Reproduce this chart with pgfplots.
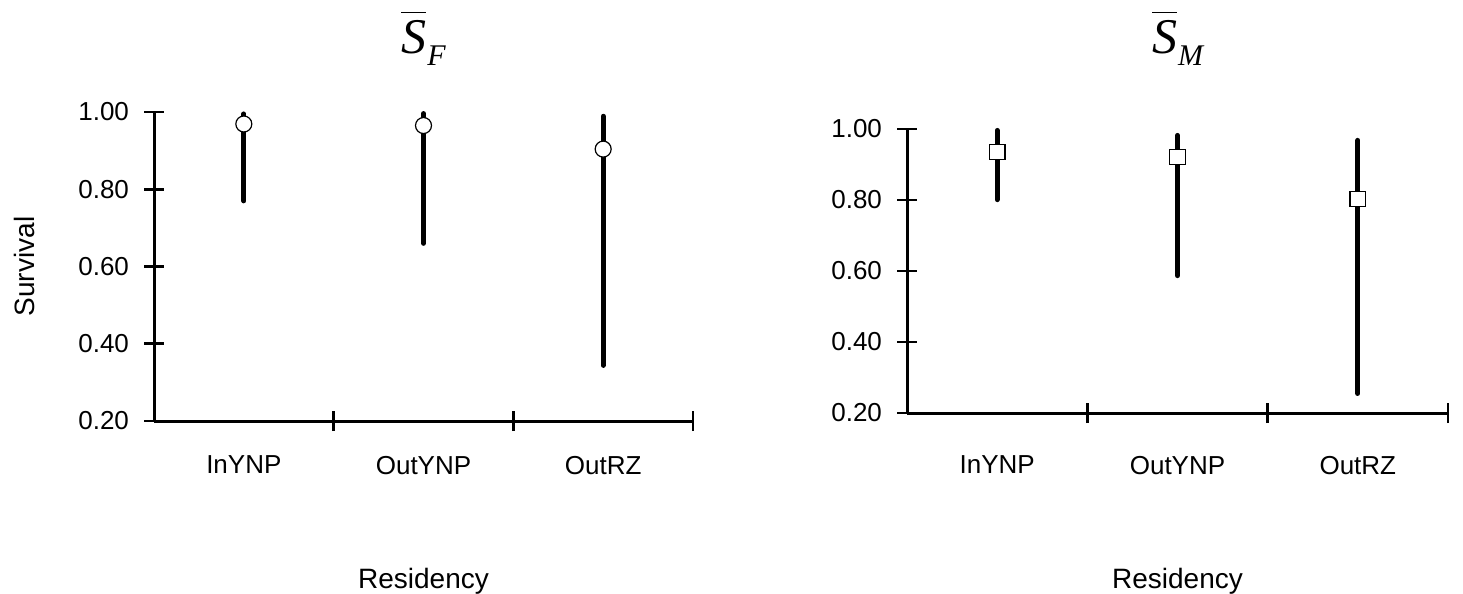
\documentclass[border=0pt]{standalone}
\usepackage{fontspec}
\setmainfont{Liberation Sans}
\newfontfamily\tnr{Liberation Serif}
\usepackage{pgfplots}
\pgfplotsset{compat=1.18}
\newcommand{\sbar}[1]{{\tnr\itshape\fontsize{25}{30}\selectfont\vbox{\hrule height 0.6pt\kern 3.5pt\hbox{S}}\kern0.5pt\raisebox{-6pt}{\fontsize{15}{18}\selectfont #1}}}
\pgfplotsset{
 myaxis/.style={
  scale only axis,
  xmin=0, xmax=3, ymin=0.2, ymax=1.0,
  axis lines=left,
  axis line style={-, line width=1.5pt},
  every tick/.style={black, line width=1.4pt},
  major tick length=10pt,
  tick align=center,
  xtick={1,2,3}, xticklabels={},
  extra x ticks={0.5,1.5,2.5},
  extra x tick labels={InYNP,OutYNP,OutRZ},
  extra x tick style={major tick length=0pt},
  ytick={0.2,0.4,0.6,0.8,1.0},
  yticklabel style={/pgf/number format/fixed, /pgf/number format/fixed zerofill, /pgf/number format/precision=2, xshift=-4pt},
  /pgf/number format/assume math mode=true,
  tick label style={font=\fontsize{13}{15}\selectfont},
  label style={font=\fontsize{14}{17}\selectfont},
  clip=false,
 },
 ci/.style={line width=2.5pt, line cap=round, black},
}
\begin{document}
\begin{tikzpicture}
\path[use as bounding box] (0,0) rectangle (731.5pt,-297pt);
% Left panel
\begin{axis}[myaxis,
  at={(77pt,-210.5pt)}, anchor=south west,
  width=269.5pt, height=154.5pt,
  xticklabel style={yshift=-14pt},
  title={\sbar{F}},
  title style={at={(axis description cs:0.5,1)}, anchor=base, yshift=23.5pt},
  ylabel={Survival},
  ylabel style={at={(axis description cs:-0.2085,0.5)}, anchor=south},
  xlabel={Residency},
  xlabel style={at={(axis description cs:0.5,0)}, anchor=base, yshift=-83.5pt},
]
\addplot[ci] coordinates {(0.5,0.770) (0.5,0.995)};
\addplot[ci] coordinates {(1.5,0.660) (1.5,0.996)};
\addplot[ci] coordinates {(2.5,0.344) (2.5,0.989)};
\addplot[only marks, mark=*, mark size=4pt, mark options={fill=white, draw=black, line width=0.6pt}]
  coordinates {(0.5,0.969) (1.5,0.965) (2.5,0.904)};
\end{axis}
% Right panel
\begin{axis}[myaxis,
  at={(453.5pt,-206.5pt)}, anchor=south west,
  width=270.5pt, height=142pt,
  xticklabel style={yshift=-18pt},
  title={\sbar{M}},
  title style={at={(axis description cs:0.5,1)}, anchor=base, yshift=32pt},
  xlabel={Residency},
  xlabel style={at={(axis description cs:0.5,0)}, anchor=base, yshift=-87.5pt},
]
\addplot[ci] coordinates {(0.5,0.801) (0.5,0.996)};
\addplot[ci] coordinates {(1.5,0.587) (1.5,0.982)};
\addplot[ci] coordinates {(2.5,0.255) (2.5,0.968)};
\addplot[only marks, mark=square*, mark size=3.9pt, mark options={fill=white, draw=black, line width=0.6pt}]
  coordinates {(0.5,0.935) (1.5,0.921) (2.5,0.803)};
\end{axis}
\end{tikzpicture}
\end{document}
